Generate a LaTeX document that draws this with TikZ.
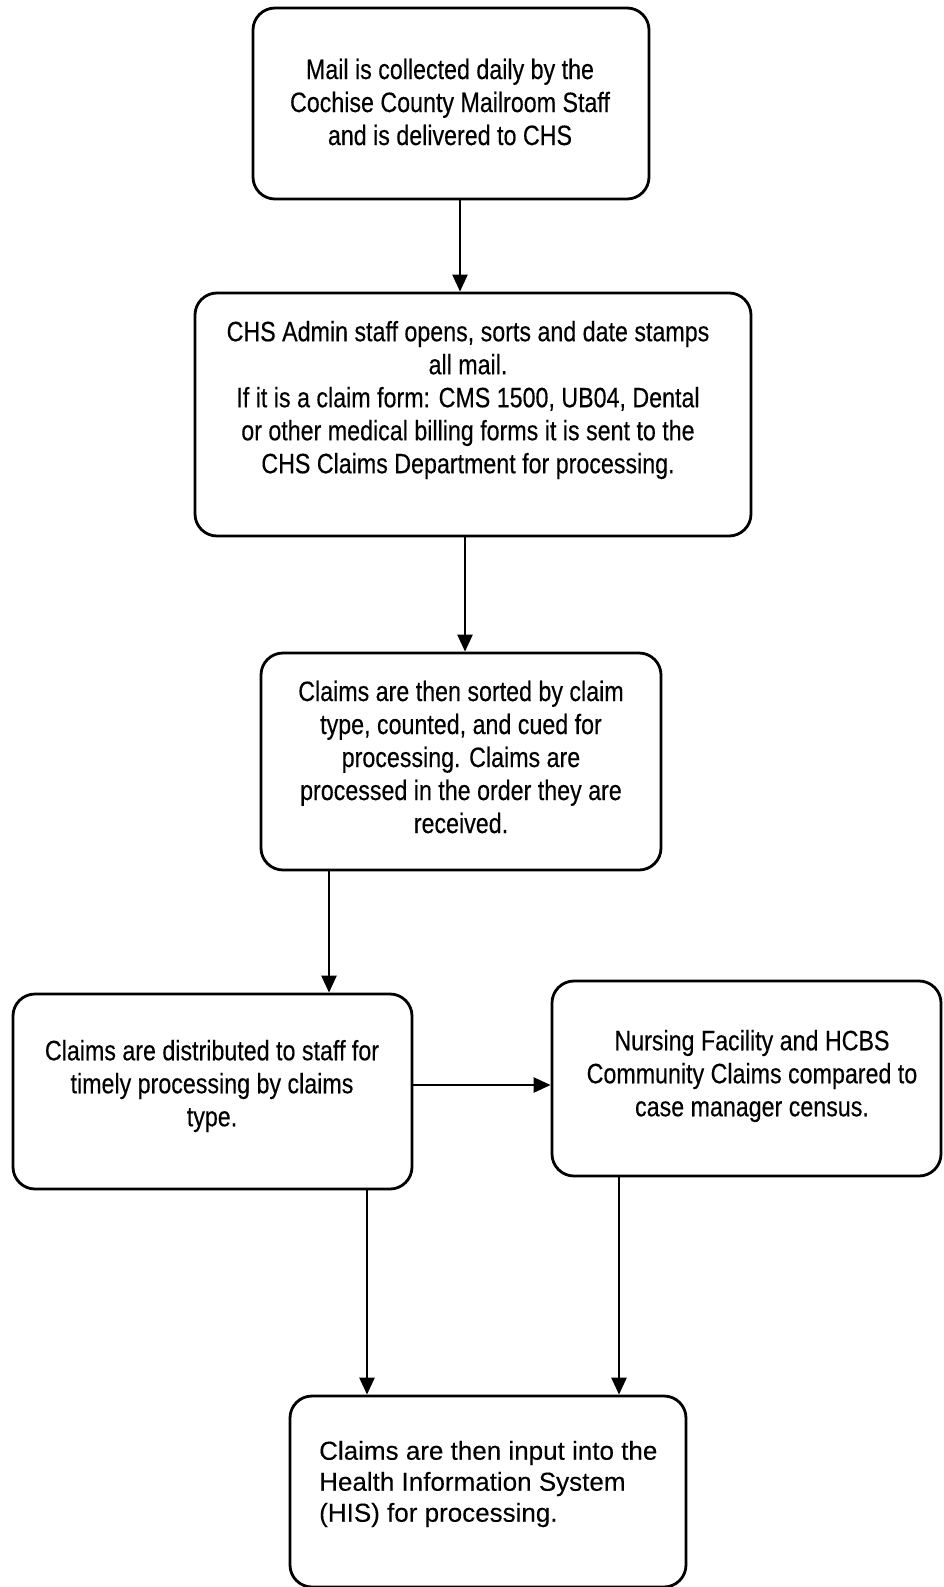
\documentclass[tikz,border=0pt]{standalone}
\usepackage{fontspec}
\setmainfont{Liberation Sans}
\newfontfamily\narrowfont[FakeStretch=0.83,FakeBold=0.3]{Liberation Sans}
\newfontfamily\plainfont[FakeBold=0.2]{Liberation Sans}
\usetikzlibrary{arrows.meta}
\tikzset{
  stepbox/.style={draw=black, line width=2.8pt, rounded corners=22pt, rectangle, inner sep=0pt},
  boxtext/.style={align=center, inner sep=0pt, font=\narrowfont\fontsize{28}{33}\selectfont},
  plaintext/.style={align=left, inner sep=0pt, font=\plainfont\fontsize{26}{31}\selectfont},
  arr/.style={line width=2.5pt, -{Triangle[width=15pt,length=17pt]}}
}
\begin{document}
\begin{tikzpicture}[x=1pt,y=-1pt]
\useasboundingbox (0,0) rectangle (944,1587);
\clip (0,0) rectangle (944,1587);
\fill[white] (0,0) rectangle (944,1587);
% boxes
\node[stepbox, minimum width=396pt, minimum height=191pt] (b1) at (451,103.5) {};
\node[stepbox, minimum width=556pt, minimum height=243pt] (b2) at (473,414.5) {};
\node[stepbox, minimum width=400pt, minimum height=217pt] (b3) at (461,761.5) {};
\node[stepbox, minimum width=399pt, minimum height=195pt] (b4) at (212.5,1091.5) {};
\node[stepbox, minimum width=389pt, minimum height=195pt] (b5) at (746.5,1078.5) {};
\node[stepbox, minimum width=396pt, minimum height=191pt] (b6) at (488,1491.5) {};
% texts
\node[boxtext] (t1) at (450,102) {Mail is collected daily by the\\Cochise County Mailroom Staff\\and is delivered to CHS};
\node[boxtext] (t2) at (468,400) {CHS Admin staff opens, sorts and date stamps\\all mail.\\If it is a claim form: CMS 1500, UB04, Dental\\or other medical billing forms it is sent to the\\CHS Claims Department for processing.};
\node[boxtext] (t3) at (461,757) {Claims are then sorted by claim\\type, counted, and cued for\\processing. Claims are\\processed in the order they are\\received.};
\node[boxtext] (t4) at (212,1086) {Claims are distributed to staff for\\timely processing by claims\\type.};
\node[boxtext] (t5) at (752,1076) {Nursing Facility and HCBS\\Community Claims compared to\\case manager census.};
\node[plaintext, anchor=west] (t6) at (319,1484) {Claims are then input into the\\Health Information System\\(HIS) for processing.};
% connectors
\draw[arr] (b1.south -| 460,0) -- (b2.north -| 460,0);
\draw[arr] (b2.south -| 465,0) -- (b3.north -| 465,0);
\draw[arr] (b3.south -| 329,0) -- (b4.north -| 329,0);
\draw[arr] (b4.east |- 0,1085) -- (b5.west |- 0,1085);
\draw[arr] (b4.south -| 367,0) -- (b6.north -| 367,0);
\draw[arr] (b5.south -| 619,0) -- (b6.north -| 619,0);
\end{tikzpicture}
\end{document}
